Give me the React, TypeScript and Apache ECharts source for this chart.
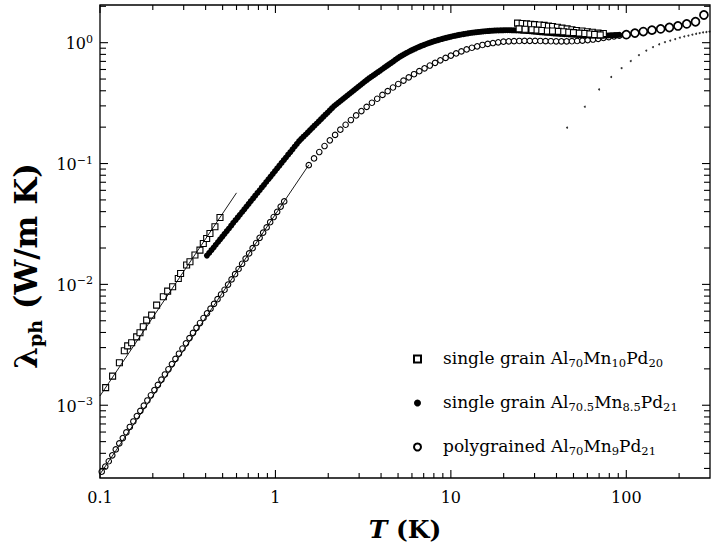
import React, { useEffect, useRef } from "react";
import * as echarts from "echarts";

const FONT = "'DejaVu Serif', 'Liberation Serif', serif";

// single grain Al70Mn10Pd20 (squares) – low T
const squareLowT = [0.1077, 0.118, 0.129, 0.1376, 0.1438, 0.1515, 0.1618, 0.169, 0.1765, 0.1845, 0.197, 0.2103, 0.2296, 0.243, 0.2595, 0.2794, 0.288, 0.3117, 0.3257, 0.3477, 0.3713, 0.388, 0.4055, 0.4234, 0.452, 0.483];
const squareLowL = [1.4e-3, 1.74e-3, 2.25e-3, 2.82e-3, 3.1e-3, 3.29e-3, 3.68e-3, 3.98e-3, 4.46e-3, 5.06e-3, 5.57e-3, 6.73e-3, 7.9e-3, 8.8e-3, 9.55e-3, 0.0112, 0.0123, 0.01445, 0.0154, 0.0175, 0.0192, 0.0218, 0.024, 0.0264, 0.03, 0.0358];
// squares – high T (two interleaved rows)
const squareHighT = [24, 25.5, 27, 28.5, 30, 32, 34, 36, 38, 40.5, 43, 46, 49, 52, 56, 60, 64, 69, 74, 24.5, 26.5, 29, 31, 33, 35.5, 38, 41, 44, 47, 50, 54, 58, 62, 66, 71];
const squareHighL = [1.45, 1.44, 1.43, 1.42, 1.41, 1.4, 1.39, 1.37, 1.36, 1.34, 1.32, 1.3, 1.28, 1.26, 1.25, 1.23, 1.22, 1.2, 1.19, 1.3, 1.29, 1.28, 1.27, 1.26, 1.25, 1.25, 1.24, 1.23, 1.22, 1.21, 1.2, 1.19, 1.18, 1.17, 1.16];

// single grain Al70.5Mn8.5Pd21 (filled circles)
const filledPoints: [number, number][] = [
  [0.407, 0.0173], [0.4315, 0.01919], [0.457, 0.02129], [0.484, 0.0236], [0.513, 0.0262], [0.543, 0.029], [0.575, 0.0323], [0.61, 0.0358], [0.646, 0.0397], [0.684, 0.0441], [0.724, 0.0489], [0.767, 0.0542], [0.813, 0.0601], [0.861, 0.0667], [0.912, 0.0741], [0.966, 0.0822], [1.023, 0.0912], [1.084, 0.1012], [1.148, 0.1122], [1.216, 0.1245], [1.288, 0.1383], [1.365, 0.1535],
  [1.445, 0.1667], [1.531, 0.1811], [1.622, 0.1972], [1.718, 0.2143], [1.82, 0.2328], [1.928, 0.2535], [2.042, 0.2754], [2.163, 0.2992], [2.291, 0.3199], [2.427, 0.342], [2.57, 0.3656], [2.723, 0.3908], [2.884, 0.4178], [3.055, 0.4467], [3.236, 0.4775], [3.428, 0.5082], [3.631, 0.5383], [3.846, 0.5715], [4.074, 0.6053], [4.315, 0.6427], [4.571, 0.6808], [4.842, 0.7228], [5.129, 0.7656], [5.433, 0.8035], [5.754, 0.8414], [6.095, 0.877], [6.457, 0.912], [6.839, 0.944], [7.244, 0.975], [7.674, 1.005], [8.128, 1.033], [8.61, 1.059], [9.12, 1.084], [9.661, 1.107], [10.23, 1.13], [10.84, 1.151], [11.48, 1.169], [12.16, 1.186], [12.88, 1.202], [13.65, 1.216], [14.45, 1.227], [15.31, 1.239], [16.22, 1.247], [17.18, 1.256], [18.2, 1.262], [19.28, 1.265], [20.42, 1.268], [21.63, 1.268], [22.91, 1.265], [24.27, 1.262], [25.7, 1.253], [27.23, 1.247], [28.84, 1.239], [30.55, 1.23], [32.36, 1.219], [34.28, 1.211], [36.31, 1.202], [38.46, 1.194], [40.74, 1.186], [43.15, 1.18], [45.71, 1.175], [48.42, 1.167], [51.29, 1.161], [54.33, 1.156], [57.54, 1.151], [60.95, 1.146], [64.57, 1.143], [68.39, 1.143], [72.44, 1.143], [76.74, 1.146], [81.28, 1.151], [86.1, 1.156], [91.2, 1.161],
];
// further readings of the same dense band (between the points above)
const filledPoints2: [number, number][] = [
  [0.4193, 0.01821], [0.4443, 0.0202], [0.4707, 0.02242], [0.4985, 0.02486], [0.5281, 0.02759], [0.5593, 0.03061], [0.5923, 0.03397], [0.6273, 0.0377], [0.6645, 0.04181], [0.7039, 0.0464], [0.7456, 0.05148], [0.7896, 0.05711], [0.8366, 0.06339], [0.8861, 0.07033], [0.9386, 0.07802], [0.9943, 0.08657], [1.0532, 0.09607], [1.1156, 0.1066], [1.1817, 0.1183], [1.2516, 0.1312], [1.3259, 0.1456], [1.4045, 0.16],
  [1.4876, 0.1738], [1.5757, 0.189], [1.6691, 0.2056], [1.7681, 0.2234], [1.873, 0.2429], [1.9841, 0.2642], [2.1017, 0.2871], [2.226, 0.3094], [2.358, 0.3307], [2.4977, 0.3535], [2.6456, 0.3779], [2.8027, 0.404], [2.9682, 0.4319], [3.1441, 0.4618], [3.3304, 0.4927], [3.5278, 0.5231], [3.7371, 0.5546], [3.9582, 0.5882], [4.1928, 0.6237], [4.4411, 0.6614], [4.7043, 0.7015], [4.9831, 0.7438], [5.2785, 0.7843], [5.5913, 0.8222], [5.9225, 0.859], [6.2734, 0.8944], [6.645, 0.9279], [7.0388, 0.9594], [7.4559, 0.9897], [7.8975, 1.0186], [8.3654, 1.0459], [8.8613, 1.0715], [9.3864, 1.0952], [9.9426, 1.1181], [10.532, 1.1402], [11.156, 1.1601], [11.817, 1.1776], [12.516, 1.194], [13.259, 1.2092], [14.045, 1.2218], [14.876, 1.2331], [15.757, 1.2431], [16.691, 1.2517], [17.681, 1.2589], [18.73, 1.2633], [19.841, 1.2662], [21.017, 1.2677], [22.26, 1.2662], [23.58, 1.2633], [24.977, 1.2575], [26.456, 1.2503], [28.027, 1.2431], [29.682, 1.2346], [31.441, 1.2246], [33.304, 1.2148], [35.278, 1.2064], [37.371, 1.1981], [39.582, 1.1899], [41.928, 1.183], [44.411, 1.1776], [47.043, 1.1708], [49.831, 1.1641], [52.785, 1.1588], [55.913, 1.1535], [59.225, 1.1482], [62.734, 1.1442], [66.45, 1.1429], [70.388, 1.1429], [74.559, 1.1442], [78.975, 1.1482], [83.654, 1.1535], [88.613, 1.1588],
];

// polygrained Al70Mn9Pd21 (open circles)
const openLowPoints: [number, number][] = [
  [0.1023, 2.82e-4], [0.1072, 3.11e-4], [0.1122, 3.44e-4], [0.1175, 3.85e-4], [0.123, 4.31e-4], [0.1288, 4.83e-4], [0.1349, 5.35e-4], [0.1413, 5.96e-4], [0.1479, 6.61e-4], [0.1549, 7.34e-4], [0.1622, 8.14e-4], [0.1698, 8.98e-4], [0.1778, 9.92e-4], [0.1862, 1.095e-3], [0.195, 1.209e-3], [0.2042, 1.335e-3], [0.2138, 1.474e-3], [0.2239, 1.627e-3], [0.2344, 1.797e-3], [0.2455, 1.984e-3], [0.257, 2.19e-3], [0.2692, 2.418e-3], [0.2818, 2.669e-3], [0.2951, 2.947e-3], [0.309, 3.254e-3], [0.3236, 3.593e-3], [0.3388, 3.967e-3], [0.3548, 4.36e-3], [0.3715, 4.79e-3], [0.389, 5.27e-3], [0.4074, 5.76e-3], [0.4266, 6.3e-3], [0.4467, 6.9e-3], [0.4677, 7.54e-3], [0.4898, 8.25e-3], [0.5129, 9.03e-3], [0.537, 9.97e-3], [0.5623, 0.011], [0.5888, 0.01215], [0.6166, 0.01341], [0.6457, 0.01481], [0.6761, 0.01635], [0.7079, 0.01805], [0.7413, 0.01993], [0.7762, 0.022], [0.8128, 0.02429], [0.8511, 0.02682], [0.8913, 0.02961], [0.9333, 0.03269], [0.9772, 0.03609], [1.0233, 0.03985], [1.0715, 0.044], [1.122, 0.0486],
];
const openHighPoints: [number, number][] = [
  [1.549, 0.097], [1.66, 0.1102], [1.778, 0.1245], [1.905, 0.1396], [2.042, 0.1556], [2.188, 0.1726], [2.344, 0.1905], [2.512, 0.2094], [2.692, 0.2291], [2.884, 0.25], [3.09, 0.2716], [3.311, 0.2944], [3.548, 0.3184], [3.802, 0.3436], [4.074, 0.3698], [4.365, 0.3972], [4.677, 0.4256], [5.012, 0.455], [5.37, 0.4853], [5.754, 0.5164], [6.166, 0.5483], [6.607, 0.5808], [7.079, 0.6138], [7.586, 0.6471], [8.128, 0.6808], [8.71, 0.7145], [9.333, 0.7482], [10.0, 0.7816], [10.72, 0.8147], [11.48, 0.8472], [12.3, 0.879], [13.18, 0.9078], [14.13, 0.9333], [15.14, 0.9572], [16.22, 0.9772], [17.38, 0.9931], [18.62, 1.007], [19.95, 1.019], [21.38, 1.026], [22.91, 1.03], [24.55, 1.033], [26.3, 1.035], [28.18, 1.035], [30.2, 1.035], [32.36, 1.033], [34.67, 1.03], [37.15, 1.028], [39.81, 1.026], [42.66, 1.026], [45.71, 1.026], [48.98, 1.028], [52.48, 1.033], [56.23, 1.04], [60.26, 1.05], [64.57, 1.062], [69.18, 1.076], [74.13, 1.094], [79.43, 1.112], [85.11, 1.127], [91.2, 1.143],
];
const openBigPoints: [number, number][] = [
  [100, 1.165], [112, 1.2], [125, 1.235], [140, 1.27], [157, 1.3], [176, 1.335], [197, 1.375], [221, 1.43], [248, 1.49], [277, 1.695],
];

// dotted curve
const dotT = [46, 58, 70, 82, 94, 106, 118, 130, 142, 154, 166, 178, 190, 202, 214, 226, 238, 250, 262, 274, 286, 298];
const dotL = [0.198, 0.295, 0.41, 0.52, 0.615, 0.705, 0.79, 0.86, 0.92, 0.97, 1.01, 1.04, 1.07, 1.1, 1.125, 1.145, 1.165, 1.185, 1.2, 1.215, 1.225, 1.235];

// power-law fit lines
const squareFit: [number, number][] = [[0.1, 1.194e-3], [0.6, 0.0572]];
const openFit: [number, number][] = [[0.1, 2.69e-4], [1.55, 0.0975]];

// ticks
const xMajorTicks = [0.1, 1, 10, 100];
const xMinorTicks = [0.2, 0.3, 0.4, 0.5, 0.6, 0.7, 0.8, 0.9, 2, 3, 4, 5, 6, 7, 8, 9, 20, 30, 40, 50, 60, 70, 80, 90, 200];
const yMajorTicks = [1e-3, 1e-2, 1e-1, 1];
const yMinorTicks = [3e-4, 4e-4, 5e-4, 6e-4, 7e-4, 8e-4, 9e-4, 2e-3, 3e-3, 4e-3, 5e-3, 6e-3, 7e-3, 8e-3, 9e-3, 2e-2, 3e-2, 4e-2, 5e-2, 6e-2, 7e-2, 8e-2, 9e-2, 0.2, 0.3, 0.4, 0.5, 0.6, 0.7, 0.8, 0.9, 2];

const NAME_SQ = "single grain Al70Mn10Pd20";
const NAME_FI = "single grain Al70.5Mn8.5Pd21";
const NAME_OP = "polygrained Al70Mn9Pd21";
const legendRich: Record<string, string> = {
  [NAME_SQ]: "{f|single grain Al}{s|70}{n|Mn}{s|10}{n|Pd}{s|20}",
  [NAME_FI]: "{f|single grain Al}{s|70.5}{n|Mn}{s|8.5}{n|Pd}{s|21}",
  [NAME_OP]: "{f|polygrained Al}{s|70}{n|Mn}{s|9}{n|Pd}{s|21}",
};

function isPow10(v: number) {
  const l = Math.log10(v);
  return Math.abs(l - Math.round(l)) < 1e-6;
}

export default function App() {
  const ref = useRef<HTMLDivElement>(null);
  useEffect(() => {
    const chart = echarts.init(ref.current!, null, { renderer: "svg" });
    const xTickData = [
      ...xMajorTicks.map((v) => [v, 1, 1]),
      ...xMinorTicks.map((v) => [v, 1, 0]),
    ];
    const yTickData = [
      ...yMajorTicks.map((v) => [1, v, 1]),
      ...yMinorTicks.map((v) => [1, v, 0]),
    ];
    const option: any = {
      animation: false,
      backgroundColor: "#fff",
      grid: { left: 100, right: 3, top: 5, bottom: 69, show: true, borderColor: "#000", borderWidth: 1.3, backgroundColor: "transparent" },
      xAxis: {
        type: "log",
        logBase: 10,
        min: 0.1,
        max: 300,
        axisLine: { show: false },
        axisTick: { show: false },
        splitLine: { show: false },
        axisLabel: {
          margin: 11,
          color: "#000",
          fontFamily: FONT,
          fontSize: 16,
          formatter: (v: number) => {
            if (!isPow10(v)) return "";
            const e = Math.round(Math.log10(v));
            return e < 0 ? "0.1" : String(Math.pow(10, e));
          },
        },
        name: "{i|T} (K)",
        nameLocation: "middle",
        nameGap: 39,
        nameTextStyle: {
          color: "#000",
          fontFamily: FONT,
          fontSize: 25,
          fontWeight: "bold",
          rich: { i: { fontFamily: FONT, fontSize: 25, fontWeight: "bold", fontStyle: "italic", color: "#000" } },
        },
      },
      yAxis: {
        type: "log",
        logBase: 10,
        min: 2.5e-4,
        max: 2.05,
        axisLine: { show: false },
        axisTick: { show: false },
        splitLine: { show: false },
        axisLabel: {
          margin: 7,
          color: "#000",
          fontFamily: FONT,
          formatter: (v: number) => {
            if (!isPow10(v)) return "";
            const e = Math.round(Math.log10(v));
            return "{b|10}{sup|" + (e < 0 ? "\u2212" + -e : String(e)) + "}";
          },
          rich: {
            b: { fontFamily: FONT, fontSize: 16, color: "#000", verticalAlign: "bottom", lineHeight: 18, padding: [7, 0, 0, 0] },
            sup: { fontFamily: FONT, fontSize: 11, color: "#000", verticalAlign: "top", lineHeight: 12 },
          },
        },
      },
      legend: {
        orient: "vertical",
        left: 408,
        top: 342,
        itemGap: 22,
        itemWidth: 7,
        itemHeight: 7,
        selectedMode: false,
        data: [NAME_SQ, NAME_FI, NAME_OP],
        formatter: (name: string) => legendRich[name],
        textStyle: {
          color: "#000",
          fontFamily: FONT,
          fontSize: 17,
          rich: {
            f: { fontFamily: FONT, fontSize: 17, color: "#000", verticalAlign: "top", lineHeight: 20, padding: [0, 0, 0, 17] },
            n: { fontFamily: FONT, fontSize: 17, color: "#000", verticalAlign: "top", lineHeight: 20 },
            s: { fontFamily: FONT, fontSize: 11.5, color: "#000", verticalAlign: "bottom", lineHeight: 12, padding: [10, 0, 0, 0] },
          },
        },
      },
      graphic: [
        {
          type: "text",
          x: 27,
          y: 266,
          rotation: Math.PI / 2,
          style: {
            text: "{l|\u03bb}{p|ph}{l| (W/m K)}",
            align: "center",
            verticalAlign: "middle",
            fill: "#000",
            rich: {
              l: { fontFamily: FONT, fontSize: 31, fontWeight: "bold", fill: "#000", verticalAlign: "top", lineHeight: 34 } as any,
              p: { fontFamily: FONT, fontSize: 19, fontWeight: "bold", fill: "#000", verticalAlign: "bottom", lineHeight: 20, padding: [19, 0, 0, 0] } as any,
            },
          },
        },
      ],
      series: [
        {
          name: "openFit",
          type: "line",
          data: openFit,
          showSymbol: false,
          symbol: "none",
          lineStyle: { color: "#000", width: 0.9 },
          z: 4,
          silent: true,
        },
        {
          name: "squareFit",
          type: "line",
          data: squareFit,
          showSymbol: false,
          symbol: "none",
          lineStyle: { color: "#000", width: 0.9 },
          z: 4,
          silent: true,
        },
        {
          name: "dotted",
          type: "scatter",
          data: dotT.map((t, i) => [t, dotL[i]]),
          symbol: "circle",
          symbolSize: 2,
          itemStyle: { color: "#000" },
          z: 3,
          silent: true,
        },
        {
          name: NAME_OP,
          type: "scatter",
          data: [
            ...openLowPoints.map((p) => ({ value: p })),
            ...openHighPoints.map((p) => ({ value: p })),
            ...openBigPoints.map((p) => ({ value: p, symbolSize: 8, itemStyle: { borderWidth: 1.7 } })),
          ],
          symbol: "circle",
          symbolSize: 5.5,
          itemStyle: { color: "#fff", borderColor: "#000", borderWidth: 1.1, opacity: 1 },
          z: 3,
          silent: true,
        },
        {
          name: NAME_FI,
          type: "scatter",
          data: [...filledPoints, ...filledPoints2],
          symbol: "circle",
          symbolSize: 6,
          itemStyle: { color: "#000", opacity: 1 },
          z: 3,
          silent: true,
        },
        {
          name: NAME_SQ,
          type: "scatter",
          data: [
            ...squareLowT.map((t, i) => [t, squareLowL[i]]),
            ...squareHighT.map((t, i) => [t, squareHighL[i]]),
          ],
          symbol: "rect",
          symbolSize: 6,
          itemStyle: { color: "#fff", borderColor: "#000", borderWidth: 1.1, opacity: 1 },
          z: 3,
          silent: true,
        },
        {
          name: "xTicks",
          type: "custom",
          silent: true,
          z: 10,
          clip: false,
          data: xTickData,
          encode: { x: 0, y: 1 },
          renderItem: (params: any, api: any) => {
            const cs = params.coordSys;
            const x = api.coord([api.value(0), 1])[0];
            const len = api.value(2) ? 8 : 5;
            const b = cs.y + cs.height;
            return {
              type: "group",
              children: [
                { type: "line", shape: { x1: x, y1: b, x2: x, y2: b - len }, style: { stroke: "#000", lineWidth: 1.1 } },
                { type: "line", shape: { x1: x, y1: cs.y, x2: x, y2: cs.y + len }, style: { stroke: "#000", lineWidth: 1.1 } },
              ],
            };
          },
        },
        {
          name: "yTicks",
          type: "custom",
          silent: true,
          z: 10,
          clip: false,
          data: yTickData,
          encode: { x: 0, y: 1 },
          renderItem: (params: any, api: any) => {
            const cs = params.coordSys;
            const y = api.coord([1, api.value(1)])[1];
            const len = api.value(2) ? 8 : 6;
            const r = cs.x + cs.width;
            return {
              type: "group",
              children: [
                { type: "line", shape: { x1: cs.x, y1: y, x2: cs.x + len, y2: y }, style: { stroke: "#000", lineWidth: 1.1 } },
                { type: "line", shape: { x1: r, y1: y, x2: r - len, y2: y }, style: { stroke: "#000", lineWidth: 1.1 } },
              ],
            };
          },
        },
      ],
    };
    chart.setOption(option);
    return () => chart.dispose();
  }, []);
  return <div ref={ref} style={{ position: "fixed", left: 0, top: 0, width: 713, height: 547 }} />;
}
